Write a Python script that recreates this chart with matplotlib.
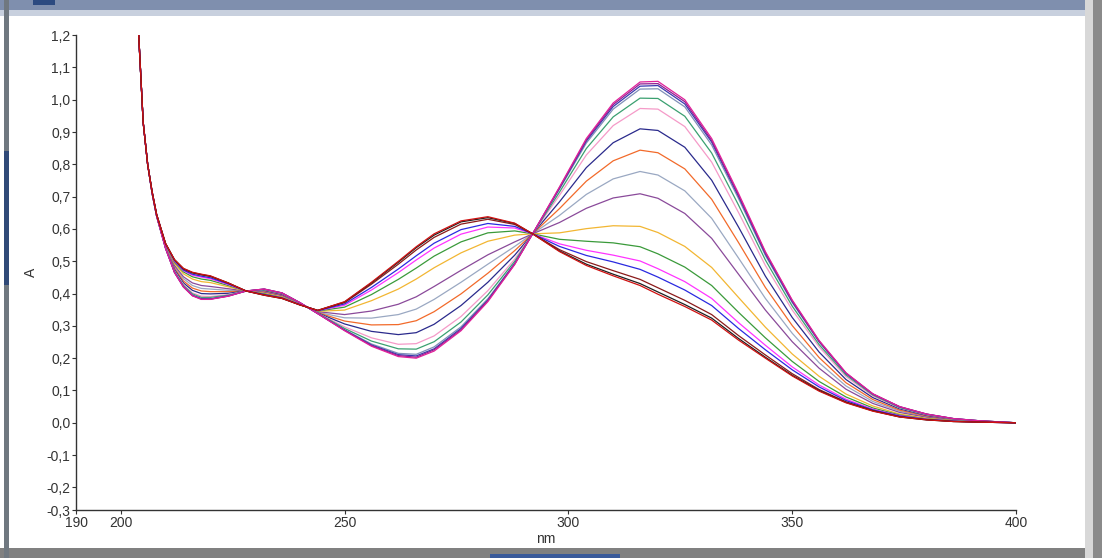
import numpy as np
import matplotlib.pyplot as plt
from matplotlib.patches import Rectangle

# wavelengths (nm) shared by all spectra
wavelength = [204, 205, 206, 207, 208, 210, 212, 214, 216, 218, 220, 224, 228, 232, 236,
              240, 244, 250, 256, 262, 266, 270, 276, 282, 288, 292, 298, 304, 310, 316,
              320, 326, 332, 338, 344, 350, 356, 362, 368, 374, 380, 386, 392, 400]

# absorbance of each scan, from first (red) to last (magenta)
scan_red = [1.200, 0.930, 0.800, 0.715, 0.645, 0.555, 0.505, 0.478, 0.466, 0.460, 0.455, 0.433, 0.408, 0.395, 0.385,
            0.365, 0.348, 0.375, 0.435, 0.500, 0.545, 0.585, 0.625, 0.638, 0.618, 0.585, 0.530, 0.487, 0.455, 0.425,
            0.398, 0.360, 0.318, 0.256, 0.200, 0.145, 0.098, 0.062, 0.036, 0.018, 0.009, 0.004, 0.002, 0.000]
scan_black = [1.200, 0.930, 0.800, 0.715, 0.645, 0.555, 0.505, 0.477, 0.465, 0.459, 0.454, 0.433, 0.408, 0.395, 0.385,
              0.365, 0.348, 0.374, 0.433, 0.497, 0.542, 0.581, 0.622, 0.635, 0.617, 0.585, 0.532, 0.491, 0.460, 0.431,
              0.405, 0.366, 0.324, 0.261, 0.203, 0.147, 0.100, 0.063, 0.037, 0.018, 0.009, 0.004, 0.002, 0.000]
scan_brown = [1.200, 0.930, 0.800, 0.715, 0.645, 0.555, 0.504, 0.476, 0.464, 0.458, 0.453, 0.432, 0.408, 0.396, 0.386,
              0.365, 0.348, 0.372, 0.429, 0.491, 0.535, 0.574, 0.615, 0.630, 0.614, 0.585, 0.536, 0.499, 0.471, 0.444,
              0.418, 0.379, 0.335, 0.270, 0.210, 0.152, 0.103, 0.065, 0.038, 0.019, 0.010, 0.004, 0.002, 0.000]
scan_blue = [1.200, 0.930, 0.800, 0.715, 0.645, 0.554, 0.502, 0.473, 0.460, 0.454, 0.449, 0.430, 0.408, 0.397, 0.386,
             0.366, 0.347, 0.368, 0.419, 0.476, 0.517, 0.556, 0.598, 0.617, 0.608, 0.585, 0.546, 0.518, 0.498, 0.475,
             0.451, 0.411, 0.363, 0.292, 0.226, 0.164, 0.111, 0.069, 0.040, 0.021, 0.010, 0.005, 0.002, 0.000]
scan_magenta = [1.200, 0.930, 0.800, 0.715, 0.645, 0.553, 0.500, 0.471, 0.457, 0.451, 0.446, 0.428, 0.408, 0.397, 0.387,
                0.366, 0.347, 0.364, 0.411, 0.465, 0.504, 0.541, 0.584, 0.606, 0.603, 0.585, 0.554, 0.534, 0.519, 0.501,
                0.477, 0.437, 0.385, 0.310, 0.240, 0.173, 0.117, 0.073, 0.042, 0.022, 0.011, 0.005, 0.002, 0.000]
scan_green = [1.200, 0.930, 0.800, 0.714, 0.644, 0.552, 0.497, 0.467, 0.452, 0.445, 0.441, 0.425, 0.408, 0.399, 0.388,
              0.366, 0.346, 0.358, 0.397, 0.444, 0.479, 0.516, 0.560, 0.588, 0.594, 0.585, 0.568, 0.562, 0.557, 0.545,
              0.523, 0.482, 0.425, 0.342, 0.263, 0.190, 0.128, 0.080, 0.046, 0.024, 0.012, 0.006, 0.003, 0.000]
scan_gold = [1.200, 0.930, 0.800, 0.714, 0.644, 0.551, 0.493, 0.461, 0.445, 0.437, 0.434, 0.421, 0.408, 0.401, 0.390,
             0.367, 0.345, 0.349, 0.378, 0.414, 0.445, 0.480, 0.526, 0.562, 0.581, 0.585, 0.588, 0.601, 0.610, 0.608,
             0.589, 0.546, 0.481, 0.388, 0.296, 0.213, 0.144, 0.089, 0.052, 0.027, 0.014, 0.007, 0.003, 0.000]
scan_purple = [1.200, 0.930, 0.800, 0.713, 0.643, 0.548, 0.487, 0.452, 0.433, 0.425, 0.422, 0.415, 0.408, 0.404, 0.393,
               0.368, 0.344, 0.335, 0.346, 0.367, 0.390, 0.422, 0.472, 0.520, 0.560, 0.585, 0.620, 0.664, 0.696, 0.709,
               0.695, 0.648, 0.571, 0.460, 0.349, 0.251, 0.169, 0.104, 0.060, 0.032, 0.017, 0.008, 0.004, 0.000]
scan_steel = [1.200, 0.930, 0.800, 0.712, 0.642, 0.547, 0.483, 0.446, 0.425, 0.416, 0.414, 0.410, 0.408, 0.406, 0.395,
              0.369, 0.342, 0.325, 0.324, 0.335, 0.352, 0.382, 0.435, 0.491, 0.546, 0.585, 0.642, 0.707, 0.755, 0.778,
              0.767, 0.718, 0.633, 0.510, 0.385, 0.277, 0.186, 0.114, 0.066, 0.036, 0.019, 0.009, 0.004, 0.000]
scan_orange = [1.200, 0.930, 0.800, 0.712, 0.642, 0.545, 0.478, 0.439, 0.417, 0.408, 0.406, 0.406, 0.408, 0.408, 0.396,
               0.370, 0.341, 0.315, 0.303, 0.304, 0.316, 0.344, 0.399, 0.463, 0.533, 0.585, 0.663, 0.748, 0.811, 0.844,
               0.836, 0.786, 0.692, 0.558, 0.419, 0.301, 0.202, 0.124, 0.072, 0.039, 0.021, 0.010, 0.005, 0.000]
scan_navy = [1.200, 0.930, 0.800, 0.711, 0.641, 0.543, 0.474, 0.433, 0.410, 0.400, 0.399, 0.401, 0.408, 0.410, 0.398,
             0.370, 0.340, 0.306, 0.283, 0.273, 0.279, 0.305, 0.363, 0.435, 0.519, 0.585, 0.684, 0.790, 0.867, 0.910,
             0.905, 0.853, 0.751, 0.606, 0.454, 0.326, 0.219, 0.134, 0.078, 0.043, 0.023, 0.011, 0.005, 0.000]
scan_pink = [1.200, 0.930, 0.800, 0.711, 0.641, 0.542, 0.470, 0.428, 0.402, 0.392, 0.391, 0.397, 0.408, 0.412, 0.400,
             0.371, 0.339, 0.297, 0.263, 0.243, 0.245, 0.269, 0.329, 0.409, 0.507, 0.585, 0.704, 0.829, 0.920, 0.973,
             0.971, 0.917, 0.807, 0.651, 0.487, 0.349, 0.235, 0.143, 0.083, 0.046, 0.025, 0.012, 0.005, 0.000]
scan_green2 = [1.200, 0.930, 0.800, 0.710, 0.640, 0.541, 0.468, 0.425, 0.399, 0.388, 0.388, 0.395, 0.408, 0.412, 0.401,
               0.371, 0.339, 0.292, 0.253, 0.229, 0.228, 0.251, 0.312, 0.396, 0.500, 0.585, 0.714, 0.849, 0.947, 1.005,
               1.004, 0.949, 0.835, 0.674, 0.504, 0.361, 0.242, 0.148, 0.086, 0.047, 0.026, 0.012, 0.006, 0.000]
scan_grayblue = [1.200, 0.930, 0.800, 0.710, 0.640, 0.541, 0.466, 0.422, 0.396, 0.385, 0.385, 0.393, 0.408, 0.413, 0.401,
                 0.372, 0.338, 0.288, 0.244, 0.215, 0.212, 0.235, 0.297, 0.384, 0.494, 0.585, 0.723, 0.866, 0.971, 1.033,
                 1.034, 0.978, 0.860, 0.694, 0.518, 0.372, 0.250, 0.152, 0.088, 0.049, 0.026, 0.013, 0.006, 0.000]
scan_blue2 = [1.200, 0.930, 0.800, 0.710, 0.640, 0.540, 0.466, 0.421, 0.394, 0.384, 0.383, 0.393, 0.408, 0.414, 0.402,
              0.372, 0.338, 0.287, 0.241, 0.211, 0.207, 0.229, 0.292, 0.380, 0.493, 0.585, 0.726, 0.872, 0.979, 1.042,
              1.044, 0.987, 0.869, 0.701, 0.523, 0.375, 0.252, 0.153, 0.089, 0.049, 0.027, 0.013, 0.006, 0.000]
scan_purple2 = [1.200, 0.930, 0.800, 0.710, 0.640, 0.540, 0.465, 0.421, 0.394, 0.383, 0.383, 0.392, 0.408, 0.414, 0.402,
                0.372, 0.338, 0.286, 0.239, 0.208, 0.203, 0.226, 0.288, 0.378, 0.491, 0.585, 0.728, 0.876, 0.985, 1.049,
                1.050, 0.994, 0.874, 0.705, 0.527, 0.378, 0.253, 0.154, 0.089, 0.050, 0.027, 0.013, 0.006, 0.000]
scan_last = [1.200, 0.930, 0.800, 0.710, 0.640, 0.540, 0.465, 0.420, 0.393, 0.382, 0.382, 0.392, 0.408, 0.414, 0.402,
             0.372, 0.338, 0.285, 0.237, 0.205, 0.200, 0.222, 0.285, 0.375, 0.490, 0.585, 0.730, 0.880, 0.990, 1.055,
             1.057, 1.000, 0.880, 0.710, 0.530, 0.380, 0.255, 0.155, 0.090, 0.050, 0.027, 0.013, 0.006, 0.000]

y_ticks = [1.2, 1.1, 1.0, 0.9, 0.8, 0.7, 0.6, 0.5, 0.4, 0.3, 0.2, 0.1, 0.0, -0.1, -0.2, -0.27]
y_labels = ["1,2", "1,1", "1,0", "0,9", "0,8", "0,7", "0,6", "0,5", "0,4", "0,3", "0,2", "0,1",
            "0,0", "-0,1", "-0,2", "-0,3"]
x_ticks = [190, 200, 250, 300, 350, 400]

# drawn in this order: middle scans first, end bundles on top
scans = [
    (scan_steel, "#9aa8c2"),
    (scan_orange, "#f26a2a"),
    (scan_navy, "#2a2a8c"),
    (scan_purple, "#8a4a9a"),
    (scan_gold, "#f2b632"),
    (scan_pink, "#f59ac8"),
    (scan_green, "#3a9a3a"),
    (scan_green2, "#3aa070"),
    (scan_magenta, "#ff33ff"),
    (scan_blue, "#2a2ae0"),
    (scan_grayblue, "#8090b8"),
    (scan_blue2, "#3a3ab0"),
    (scan_purple2, "#902090"),
    (scan_last, "#e0209a"),
    (scan_brown, "#8b1a1a"),
    (scan_black, "#202020"),
    (scan_red, "#d01010"),
]

plt.rcParams["font.family"] = ["Liberation Sans", "DejaVu Sans"]

fig = plt.figure(figsize=(11.02, 5.58), dpi=100)
fig.patch.set_facecolor("white")

# window frame around the plot
fig.patches.append(Rectangle((0, 0.982), 1, 0.018, transform=fig.transFigure,
                             facecolor="#7f8fae", edgecolor="none"))
fig.patches.append(Rectangle((0, 0.972), 1, 0.010, transform=fig.transFigure,
                             facecolor="#c8d0de", edgecolor="none"))
fig.patches.append(Rectangle((0.03, 0.991), 0.02, 0.009, transform=fig.transFigure,
                             facecolor="#2c4a80", edgecolor="none"))
fig.patches.append(Rectangle((0, 0), 1, 0.018, transform=fig.transFigure,
                             facecolor="#808080", edgecolor="none"))
fig.patches.append(Rectangle((0.445, 0), 0.118, 0.008, transform=fig.transFigure,
                             facecolor="#3a5a9a", edgecolor="none"))
fig.patches.append(Rectangle((0.004, 0), 0.004, 1, transform=fig.transFigure,
                             facecolor="#707880", edgecolor="none"))
fig.patches.append(Rectangle((0.004, 0.49), 0.004, 0.24, transform=fig.transFigure,
                             facecolor="#304a78", edgecolor="none"))
fig.patches.append(Rectangle((0.992, 0), 0.008, 1, transform=fig.transFigure,
                             facecolor="#8a8a8a", edgecolor="none"))
fig.patches.append(Rectangle((0.985, 0), 0.007, 1, transform=fig.transFigure,
                             facecolor="#d8d8d8", edgecolor="none"))

ax = fig.add_axes([0.069, 0.086, 0.853, 0.851])
ax.set_facecolor("white")

for values, color in scans:
    ax.plot(wavelength, values, color=color, linewidth=0.9)

ax.set_xlim(190, 400)
ax.set_ylim(-0.27, 1.2)
ax.set_yticks(y_ticks)
ax.set_yticklabels(y_labels)
ax.set_xticks(x_ticks)
ax.set_xticklabels([str(t) for t in x_ticks])

for side in ["top", "right"]:
    ax.spines[side].set_visible(False)
for side in ["left", "bottom"]:
    ax.spines[side].set_color("#333333")
    ax.spines[side].set_linewidth(1.0)

ax.tick_params(direction="out", length=3, width=0.8, colors="#333333",
               labelsize=10, labelcolor="#333333", pad=1)
ax.set_xlabel("nm", fontsize=10, color="#333333", labelpad=2)
ax.set_ylabel("A", fontsize=10, color="#333333", labelpad=6)

fig.savefig("out.png", dpi=100, facecolor=fig.get_facecolor())
